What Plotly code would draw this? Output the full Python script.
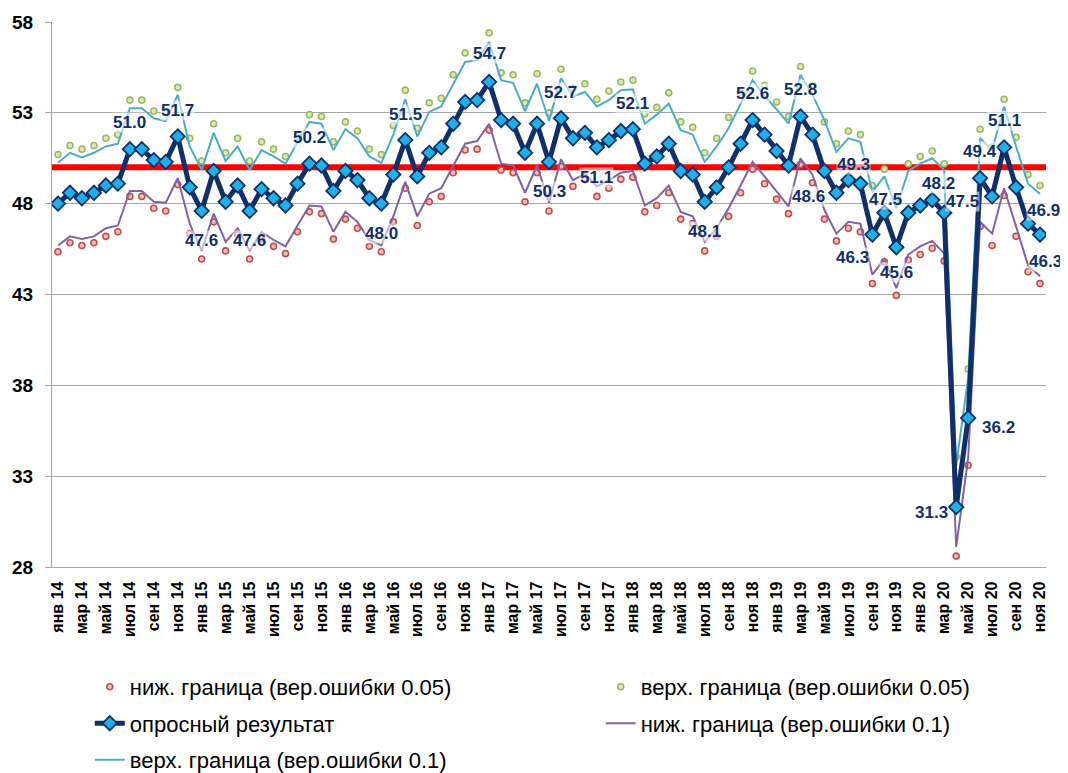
import plotly.graph_objects as go

# ---------------- data ----------------
MONTHS = ["янв", "фев", "мар", "апр", "май", "июн", "июл", "авг", "сен", "окт", "ноя", "дек"]
YEARS = ["14", "15", "16", "17", "18", "19", "20"]
categories = [f"{m} {y}" for y in YEARS for m in MONTHS][:83]   # янв 14 ... ноя 20
tick_labels = categories[::2]

survey = [48.0, 48.6, 48.3, 48.6, 49.0, 49.1, 51.0, 51.0, 50.4, 50.3, 51.7, 48.9,
          47.6, 49.8, 48.1, 49.0, 47.6, 48.8, 48.3, 47.9, 49.1, 50.2, 50.1, 48.7,
          49.8, 49.3, 48.3, 48.0, 49.6, 51.5, 49.5, 50.8, 51.1, 52.4, 53.6, 53.7,
          54.7, 52.6, 52.4, 50.8, 52.4, 50.3, 52.7, 51.6, 51.9, 51.1, 51.5, 52.0,
          52.1, 50.2, 50.6, 51.3, 49.8, 49.6, 48.1, 48.9, 50.0, 51.3, 52.6, 51.8,
          50.9, 50.1, 52.8, 51.8, 49.8, 48.6, 49.3, 49.1, 46.3, 47.5, 45.6, 47.5,
          47.9, 48.2, 47.5, 31.3, 36.2, 49.4, 48.4, 51.1, 48.9, 46.9, 46.3]

upper_05 = [50.7, 51.2, 51.0, 51.2, 51.6, 51.8, 53.7, 53.7, 53.1, 53.0, 54.4, 51.6,
            50.35, 52.4, 50.8, 51.6, 50.35, 51.4, 51.0, 50.6, 51.7, 52.9, 52.8, 51.4,
            52.5, 52.0, 51.0, 50.7, 52.3, 54.25, 52.15, 53.55, 53.8, 55.1, 56.3, 56.2,
            57.4, 55.2, 55.1, 53.55, 55.15, 53.0, 55.4, 54.35, 54.6, 53.75, 54.2, 54.7,
            54.8, 52.95, 53.3, 54.1, 52.5, 52.2, 50.8, 51.6, 52.75, 54.1, 55.3, 54.5,
            53.6, 52.8, 55.55, 54.5, 52.5, 51.3, 52.0, 51.8, 49.0, 49.9, 48.3, 50.2,
            50.6, 50.9, 50.2, 34.05, 38.9, 52.1, 51.1, 53.75, 51.65, 49.6, 49.0]

upper_10 = [50.25, 50.8, 50.55, 50.8, 51.15, 51.3, 53.25, 53.25, 52.7, 52.55, 54.0, 51.15,
            49.85, 51.9, 50.35, 51.15, 49.85, 50.95, 50.6, 50.2, 51.4, 52.5, 52.4, 50.95,
            52.1, 51.6, 50.6, 50.25, 51.8, 53.75, 51.7, 53.05, 53.35, 54.6, 55.8, 55.9,
            56.9, 54.8, 54.65, 53.1, 54.6, 52.55, 54.9, 53.9, 54.15, 53.35, 53.7, 54.25,
            54.3, 52.4, 52.9, 53.5, 52.05, 51.8, 50.3, 51.15, 52.15, 53.5, 54.8, 53.9,
            53.2, 52.4, 55.1, 54.0, 52.6, 50.85, 51.6, 51.4, 48.65, 49.5, 47.75, 49.8,
            50.2, 50.5, 49.85, 33.6, 38.4, 51.6, 50.95, 53.35, 51.15, 49.1, 48.55]

lower_10 = [45.7, 46.2, 46.05, 46.2, 46.65, 46.8, 48.7, 48.7, 48.1, 48.05, 49.4, 46.9,
            45.4, 47.45, 45.9, 46.65, 45.4, 46.45, 46.0, 45.65, 46.8, 47.9, 47.85, 46.45,
            47.55, 47.0, 46.0, 45.7, 47.3, 49.2, 47.3, 48.55, 48.85, 50.1, 51.3, 51.45,
            52.4, 50.2, 50.1, 48.6, 50.1, 48.05, 50.45, 49.3, 49.65, 48.95, 49.3, 49.7,
            49.8, 47.9, 48.3, 49.0, 47.55, 47.3, 45.9, 46.65, 47.75, 49.0, 50.3, 49.5,
            48.65, 47.85, 50.5, 49.6, 47.65, 46.35, 47.0, 46.9, 44.1, 44.95, 43.35, 45.2,
            45.65, 45.95, 45.25, 29.1, 34.0, 47.0, 46.35, 48.85, 46.75, 44.6, 44.0]

lower_05 = [45.35, 45.85, 45.7, 45.85, 46.2, 46.45, 48.4, 48.4, 47.75, 47.6, 49.05, 46.35,
            44.95, 47.0, 45.4, 46.3, 44.95, 46.05, 45.65, 45.25, 46.45, 47.55, 47.45, 46.05,
            47.15, 46.65, 45.65, 45.35, 47.0, 48.85, 46.8, 48.1, 48.4, 49.7, 50.95, 51.0,
            52.05, 49.85, 49.7, 48.1, 49.7, 47.6, 50.05, 48.95, 49.3, 48.4, 48.85, 49.35,
            49.45, 47.55, 47.9, 48.6, 47.15, 46.9, 45.4, 46.2, 47.3, 48.6, 49.9, 49.1,
            48.25, 47.45, 50.15, 49.15, 47.15, 45.95, 46.65, 46.45, 43.6, 44.8, 42.95, 44.9,
            45.2, 45.55, 44.85, 28.6, 33.6, 46.75, 45.7, 48.45, 46.2, 44.25, 43.6]

THRESHOLD = 50

# indices of labelled survey points
label_idx = [6, 10, 12, 16, 21, 27, 29, 36, 41, 42, 45, 48, 54, 58, 62, 65, 66, 68,
             69, 70, 73, 74, 75, 76, 77, 79, 81, 82]

# ---------------- styles ----------------
# label offsets (px) of label centre from its point: (dx right, dy up)
label_offsets = [(0, 27), (0, 26), (0, -30), (0, -30), (0, 26), (0, -30), (0, 26), (0, 28),
                 (0, -30), (0, 26), (0, -30), (0, 26), (0, -30), (0, 27), (0, 27), (-28, -4),
                 (5, 16), (-20, -23), (1, 13), (0, -25), (6, 17), (18, 11), (-25, -5),
                 (30, -9), (0, 27), (0, 27), (15, 13), (5, -27)]

NAVY = "#10306B"
FONT = "Liberation Sans, Arial, sans-serif"
GRID = "#A6A6A6"

fig = go.Figure()

fig.add_trace(go.Scatter(
    x=categories, y=lower_05, mode="markers", name="ниж. граница (вер.ошибки 0.05)",
    marker=dict(symbol="circle", size=6, color="#F2BDB9", line=dict(color="#C0504D", width=1.6)),
    legend="legend"))
fig.add_trace(go.Scatter(
    x=categories, y=upper_05, mode="markers", name="верх. граница (вер.ошибки 0.05)",
    marker=dict(symbol="circle", size=6, color="#DCE8C4", line=dict(color="#9BBB59", width=1.6)),
    legend="legend2"))
fig.add_trace(go.Scatter(
    x=categories, y=lower_10, mode="lines", name="ниж. граница (вер.ошибки 0.1)",
    line=dict(color="#8064A2", width=2), legend="legend4"))
fig.add_trace(go.Scatter(
    x=categories, y=upper_10, mode="lines", name="верх. граница (вер.ошибки 0.1)",
    line=dict(color="#4BACC6", width=2), legend="legend5"))
fig.add_trace(go.Scatter(
    x=categories, y=survey, mode="lines+markers", name="опросный результат",
    line=dict(color=NAVY, width=5),
    marker=dict(symbol="diamond", size=11, color="#1EB1E8", line=dict(color=NAVY, width=1.8)),
    legend="legend3"))

fig.add_shape(type="line", xref="paper", yref="y", x0=0, x1=1, y0=THRESHOLD, y1=THRESHOLD,
              line=dict(color="#FF0000", width=6), layer="below")

for i, (dx, dy) in zip(label_idx, label_offsets):
    fig.add_annotation(x=categories[i], y=survey[i], xref="x", yref="y",
                       text=f"{survey[i]:.1f}", showarrow=False,
                       xshift=dx, yshift=dy, xanchor="center", yanchor="middle",
                       font=dict(family=FONT, size=17, color=NAVY, weight="bold"),
                       bgcolor="rgba(255,255,255,0.55)", borderpad=0)

legend_common = dict(orientation="h", xanchor="left", yanchor="middle",
                     bgcolor="rgba(0,0,0,0)", font=dict(family=FONT, size=22, color="#000000"))
col1, col2 = 0.038, 0.552
rows = [-0.220, -0.287, -0.354]

fig.update_layout(
    width=1060, height=765,
    margin=dict(l=44, r=22, t=14, b=206, autoexpand=False),
    plot_bgcolor="white", paper_bgcolor="white",
    showlegend=True,
    legend=dict(x=col1, y=rows[0], **legend_common),
    legend2=dict(x=col2, y=rows[0], **legend_common),
    legend3=dict(x=col1, y=rows[1], **legend_common),
    legend4=dict(x=col2, y=rows[1], **legend_common),
    legend5=dict(x=col1, y=rows[2], **legend_common),
    xaxis=dict(type="category", categoryorder="array", categoryarray=categories,
               range=[-0.5, len(categories) - 0.5],
               tickmode="array", tickvals=tick_labels, ticktext=tick_labels,
               tickangle=-90, ticks="", showgrid=False, showline=True,
               linecolor=GRID, linewidth=1.3, ticklabelstandoff=7,
               tickfont=dict(family=FONT, size=16, color="#000000", weight="bold")),
    yaxis=dict(range=[28, 58], tick0=28, dtick=5, showgrid=True, gridcolor=GRID, gridwidth=1.3,
               showline=True, linecolor=GRID, linewidth=1.3, ticks="outside", ticklen=6,
               tickcolor=GRID, zeroline=False, ticklabelstandoff=8,
               tickfont=dict(family=FONT, size=19, color="#000000", weight="bold")),
)

fig.write_html("out.html")
